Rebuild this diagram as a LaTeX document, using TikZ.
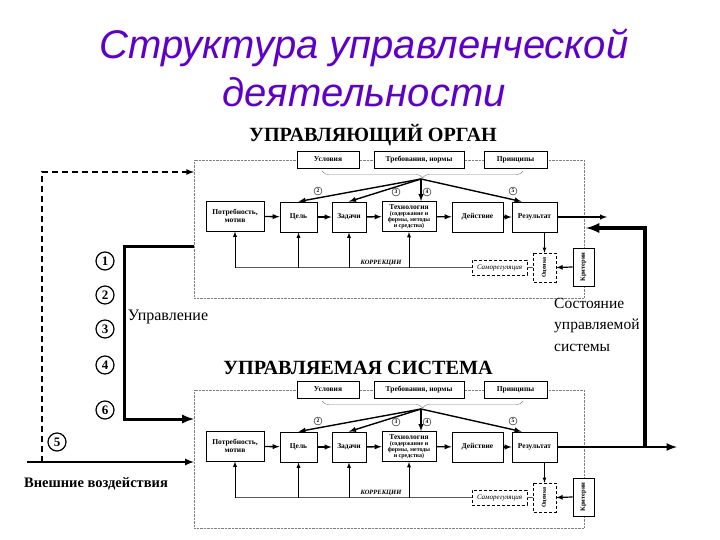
\documentclass[tikz,border=0pt]{standalone}
\usepackage{fontspec}
\setmainfont{Liberation Serif}
\newfontfamily\titlefont{Liberation Sans}
\usetikzlibrary{calc}
\usetikzlibrary{positioning}
\usetikzlibrary{decorations.pathreplacing}
\definecolor{titleviolet}{RGB}{95,0,200}

\begin{document}
\begin{tikzpicture}[x=1pt,y=-1pt,
  box/.style={draw,line width=0.9pt,fill=white,inner sep=0.5pt,align=center,font=\fontsize{7.5}{8}\selectfont\bfseries},
  dbox/.style={box,densely dashed,line width=0.6pt},
  num/.style={draw,circle,inner sep=0pt,minimum size=8pt,font=\fontsize{5.5}{5.5}\selectfont\bfseries},
  bignum/.style={draw,circle,line width=1.2pt,inner sep=0pt,minimum size=18pt,font=\fontsize{13}{13}\selectfont\bfseries},
  flow/.style={line width=1.4pt,-latex},
  corr/.style={line width=0.6pt,gray!70!black}]
  \useasboundingbox (0,0) rectangle (720,540);
  \node[font=\titlefont\itshape\fontsize{40}{48}\selectfont,text=titleviolet,align=center] (title) at (364,68) {Структура управленческой\\деятельности};

  % two blocks: managing organ and managed system
  \foreach \p/\dy/\hx/\hy/\head in {t/0/373/135/{УПРАВЛЯЮЩИЙ ОРГАН},b/230/358/368/{УПРАВЛЯЕМАЯ СИСТЕМА}}{
    \node[font=\bfseries\fontsize{20.2}{20}\selectfont] (\p-head) at (\hx,\hy) {\head};
    \begin{scope}[shift={(0,\dy)}]
      \node[draw=gray,densely dotted,minimum width=390pt,minimum height=138pt,inner sep=0pt] (\p-frame) at (389,229) {};
      \node[box,minimum width=62pt,minimum height=17pt] (\p-cond) at (328,159.5) {Условия};
      \node[box,minimum width=90pt,minimum height=17pt] (\p-req) at (419,159.5) {Требования, нормы};
      \node[box,minimum width=63pt,minimum height=17pt] (\p-princ) at (515.5,159.5) {Принципы};
      \draw[gray,decorate,decoration={brace,mirror,amplitude=7pt}] (322,171) -- (523,171);
      \coordinate (\p-tip) at (421,179);

      \node[box,minimum width=58pt,minimum height=30pt] (\p-need) at (235,216) {Потребность,\\мотив};
      \node[box,minimum width=37pt,minimum height=30pt] (\p-goal) at (298.5,217) {Цель};
      \node[box,minimum width=34pt,minimum height=30pt] (\p-tasks) at (349,217) {Задачи};
      \node[box,minimum width=54pt,minimum height=30pt,font=\fontsize{6}{6.2}\selectfont\bfseries] (\p-tech) at (409,216.5) {{\fontsize{7.5}{7.5}\selectfont Технология}\\(содержание и\\формы, методы\\и средства)};
      \node[box,minimum width=51pt,minimum height=30pt] (\p-act) at (477.5,217) {Действие};
      \node[box,minimum width=45pt,minimum height=30pt] (\p-res) at (534.5,217) {Результат};
      \node[dbox,rotate=90,minimum width=29pt,minimum height=23pt,font=\fontsize{6}{6}\selectfont\bfseries] (\p-eval) at (544.5,267.5) {Оценка};
      \node[box,rotate=90,minimum width=38pt,minimum height=21pt,font=\fontsize{6.5}{6.5}\selectfont\bfseries] (\p-crit) at (583.5,267) {Критерии};
      \node[dbox,minimum width=55pt,minimum height=15pt,font=\fontsize{7}{7.5}\selectfont\itshape] (\p-selfreg) at (499.5,267.5) {Саморегуляция};

      \draw[flow] (\p-tip) -- (\p-goal.north);
      \draw[flow] (\p-tip) -- (\p-tasks.north);
      \draw[flow] (\p-tip) -- (\p-tip |- \p-tech.north);
      \draw[flow] (\p-tip) -- ([xshift=10pt]\p-res.north west);
      \node[num] (\p-n2) at (318,191) {2};
      \node[num] (\p-n3) at (396,192) {3};
      \node[num] (\p-n4) at (427,192) {4};
      \node[num] (\p-n5) at (513,191) {5};

      \draw[flow] (\p-need) -- (\p-goal);
      \draw[flow] (\p-goal) -- (\p-tasks);
      \draw[flow] (\p-tasks) -- (\p-tech);
      \draw[flow] (\p-tech) -- (\p-act);
      \draw[flow] (\p-act) -- (\p-res);
      \draw[line width=0.8pt,-latex] (\p-res.south -| \p-eval) -- (\p-eval.east);
      \draw[line width=1.2pt,-latex] (\p-crit.north) -- (\p-eval.south);

      % corrections
      \draw[corr] (\p-eval.north) -- (\p-selfreg.east);
      \draw[corr] (\p-selfreg.west) -- (\p-need.south |- \p-selfreg.west);
      \foreach \q in {need,goal,tasks,tech}
        \draw[line width=0.9pt,-latex] (\p-\q.south |- \p-selfreg.west) -- (\p-\q.south);
      \node[font=\fontsize{6.5}{6.5}\selectfont\bfseries\itshape] (\p-corrlbl) at (381,263.5) {КОРРЕКЦИИ};
    \end{scope}
  }

  \coordinate (t-out) at (607,217);
  \coordinate (b-out) at (677,447);
  \coordinate (fb) at (645,447);
  \coordinate (fbin) at (586,228);
  \draw[flow] (t-res) -- (t-out);
  \draw[line width=2.5pt,-latex] (b-res.east) -- (b-out);
  \draw[line width=3.5pt,-latex] (fb) |- (fbin);

  % left side
  \coordinate (ctrlout) at (194,246);
  \coordinate (ctrlbend) at (124,246);
  \coordinate (ctrlin) at (194,419);
  \draw[line width=3pt,-latex] (ctrlout) -- (ctrlbend) |- (ctrlin);
  \coordinate (ext0) at (27,462);
  \coordinate (extin) at (194,462);
  \coordinate (dashbase) at (42,462);
  \coordinate (dashin) at (194,172);
  \draw[line width=2pt,-latex] (ext0) -- (extin);
  \draw[dash pattern=on 6pt off 4pt,line width=1.6pt,-latex] (dashbase) |- (dashin);

  \node[bignum] (n1) at (105,261) {1};
  \node[bignum] (n2) at (105,295) {2};
  \node[bignum] (n3) at (105,329) {3};
  \node[bignum] (n4) at (105,365) {4};
  \node[bignum] (n6) at (105,410) {6};
  \node[bignum] (n5) at (57,442) {5};

  \node[font=\fontsize{16}{16}\selectfont] (ctrllbl) at (168,317) {Управление};
  \node[font=\bfseries\fontsize{14.5}{14.5}\selectfont] (extlbl) at (96,484) {Внешние воздействия};
  \node[font=\fontsize{15.5}{21.5}\selectfont,align=left,anchor=north west,inner sep=0pt] (statelbl) at (554,298) {Состояние\\управляемой\\системы};
\end{tikzpicture}
\end{document}
